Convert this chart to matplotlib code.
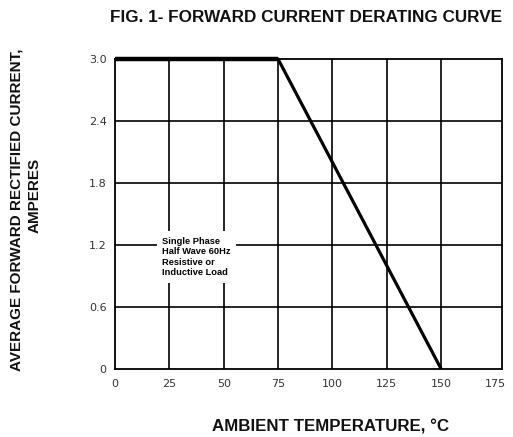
import matplotlib
matplotlib.use("Agg")
import matplotlib.pyplot as plt
from matplotlib import font_manager

names = {f.name for f in font_manager.fontManager.ttflist}
NARROW = ['Liberation Sans Narrow'] if 'Liberation Sans Narrow' in names else []
BOLD_FAM = NARROW + ['Liberation Sans', 'DejaVu Sans']

# Data
temperature = [0, 75, 150]          # ambient temperature, deg C
current = [3.0, 3.0, 0.0]           # average forward rectified current, A
x_ticks = [0, 25, 50, 75, 100, 125, 150, 175]
y_ticks = [0, 0.6, 1.2, 1.8, 2.4, 3.0]
y_tick_labels = ["0", "0.6", "1.2", "1.8", "2.4", "3.0"]

title = "FIG. 1- FORWARD CURRENT DERATING CURVE"
xlabel = "AMBIENT TEMPERATURE, \u00b0C"
ylabel1 = "AVERAGE FORWARD RECTIFIED CURRENT,"
ylabel2 = "AMPERES"
note = "Single Phase\nHalf Wave 60Hz\nResistive or\nInductive Load"

W, H = 513, 437
fig = plt.figure(figsize=(W / 100, H / 100), dpi=100)
ax = fig.add_axes([115 / W, 1 - 369 / H, (502 - 115) / W, (369 - 59) / H])

ax.set_xlim(0, 178)
ax.set_ylim(0, 3.0)
ax.set_xticks(x_ticks)
ax.set_yticks(y_ticks)
ax.set_yticklabels(y_tick_labels)
ax.tick_params(length=0, labelsize=8, colors='#333333', pad=6)
ax.tick_params(axis='x', pad=7)

ax.grid(True, color='black', linewidth=1.2)
for gl, t in zip(ax.get_xgridlines(), x_ticks):
    if t in (0, 175):
        gl.set_visible(False)
for gl, t in zip(ax.get_ygridlines(), y_ticks):
    if t in (0, 3.0):
        gl.set_visible(False)
ax.set_axisbelow(True)
for s in ax.spines.values():
    s.set_linewidth(1.3)
    s.set_color('black')

ax.plot(temperature, current, color='black', linewidth=2.3, solid_capstyle='butt', clip_on=False)
ax.plot(temperature[:2], current[:2], color='black', linewidth=3.2, solid_capstyle='butt', clip_on=False)

ax.text(21.8, 1.28, note, fontsize=6.7, fontweight='bold', va='top', ha='left',
        linespacing=1.2, family=BOLD_FAM,
        bbox=dict(facecolor='white', edgecolor='none', pad=4))

fig.text(306 / W, 1 - 18 / H, title, ha='center', va='center', fontsize=12.3,
         fontweight='bold', family=BOLD_FAM, color='#111111')
fig.text(331 / W, 1 - 427 / H, xlabel, ha='center', va='center', fontsize=12.2,
         fontweight='bold', family=BOLD_FAM, color='#111111')
fig.text(17 / W, 1 - 210 / H, ylabel1, ha='center', va='center', rotation=90,
         fontsize=11, fontweight='bold', family=BOLD_FAM, color='#111111')
fig.text(35 / W, 1 - 195 / H, ylabel2, ha='center', va='center', rotation=90,
         fontsize=11, fontweight='bold', family=BOLD_FAM, color='#111111')

fig.savefig("out.png", dpi=100)
